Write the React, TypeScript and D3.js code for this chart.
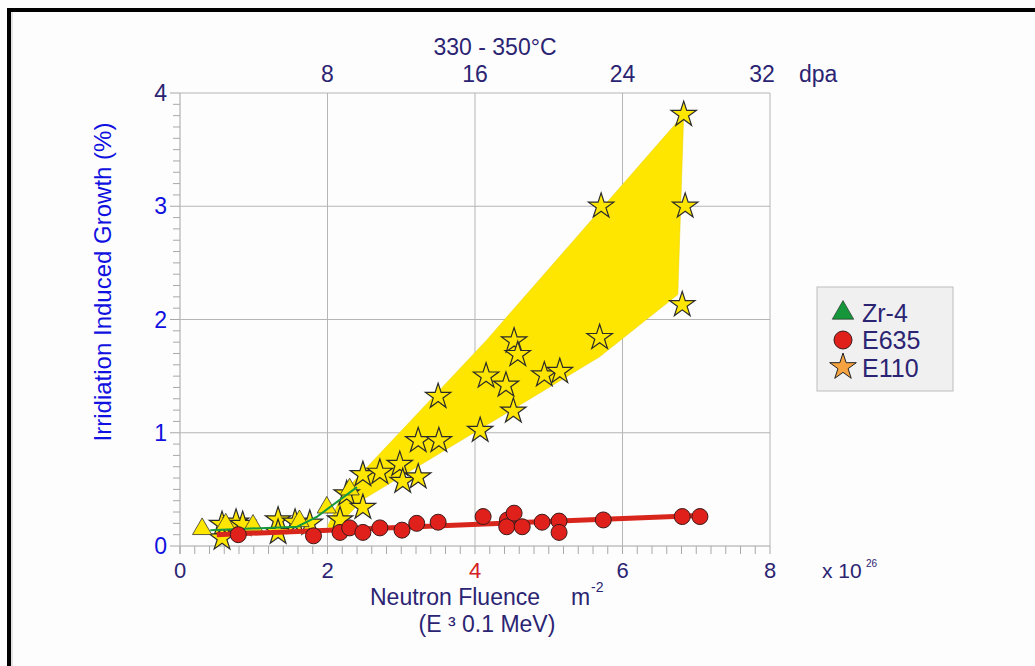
import React from "react";
import * as d3 from "d3";

const xTicks = [0, 2, 4, 6, 8];
const yTicks = [0, 1, 2, 3, 4];
const dpaTicks = [8, 16, 24, 32];

// E110 (stars): [fluence x1e26, growth %]
const e110X = [0.57, 0.57, 0.76, 0.85, 1.33, 1.33, 1.56, 1.76, 2.17, 2.26, 2.48, 2.48, 2.71, 2.98, 3.02, 3.23, 3.23, 3.51, 3.50, 4.07, 4.15, 4.42, 4.52, 4.53, 4.58, 4.94, 5.15, 5.69, 5.71, 6.81, 6.83, 6.85];
const e110Y = [0.19, 0.07, 0.21, 0.19, 0.23, 0.12, 0.21, 0.20, 0.23, 0.46, 0.63, 0.34, 0.65, 0.72, 0.57, 0.61, 0.93, 0.93, 1.32, 1.02, 1.50, 1.42, 1.19, 1.81, 1.69, 1.51, 1.54, 1.84, 3.00, 2.13, 3.81, 3.00];

// E635 (circles)
const e635X = [0.79, 1.81, 2.17, 2.30, 2.48, 2.71, 3.01, 3.21, 3.50, 4.11, 4.44, 4.43, 4.53, 4.64, 4.91, 5.14, 5.14, 5.74, 6.81, 7.05];
const e635Y = [0.10, 0.09, 0.12, 0.16, 0.12, 0.16, 0.14, 0.20, 0.21, 0.26, 0.23, 0.17, 0.29, 0.17, 0.21, 0.22, 0.12, 0.23, 0.26, 0.26];

// Zr-4 (triangles)
const zrX = [0.30, 0.62, 0.99, 1.62, 1.99, 2.30];
const zrY = [0.15, 0.19, 0.18, 0.22, 0.34, 0.50];

// trend lines
const zrLineX = [0.41, 1.59, 1.86, 2.40];
const zrLineY = [0.14, 0.17, 0.26, 0.52];
const e635LineX = [0.5, 7.05];
const e635LineY = [0.10, 0.27];

// E110 scatter band outline
const bandX = [2.0, 2.21, 4.16, 6.83, 6.75, 5.69, 4.52, 2.48, 2.1];
const bandY = [0.17, 0.47, 1.82, 3.81, 2.22, 1.67, 1.21, 0.41, 0.15];

const navy = "#2b2472";
const blue = "#1010e0";

export default function App() {
  const x = d3.scaleLinear().domain([0, 8]).range([180, 770]);
  const y = d3.scaleLinear().domain([0, 4]).range([546, 93]);
  const xd = d3.scaleLinear().domain([0, 32]).range([180, 770]);

  const star = d3.symbol().type(d3.symbolStar).size(200)() as string;
  const tri = d3.symbol().type(d3.symbolTriangle).size(160)() as string;
  const starLeg = d3.symbol().type(d3.symbolStar).size(220)() as string;
  const triLeg = d3.symbol().type(d3.symbolTriangle).size(200)() as string;

  const line = d3.line<[number, number]>().x((d) => x(d[0])).y((d) => y(d[1]));
  const band = bandX.map((v, i) => [v, bandY[i]] as [number, number]);
  const zrLine = zrLineX.map((v, i) => [v, zrLineY[i]] as [number, number]);
  const redLine = e635LineX.map((v, i) => [v, e635LineY[i]] as [number, number]);

  const yMinor = d3.range(0, 40.5, 1).map((i) => i / 10);
  const xMinor = d3.range(0, 40.5, 1).map((i) => i / 5);

  const font = "Arial, Liberation Sans, sans-serif";

  return (
    <svg width={1035} height={666} style={{ position: "absolute", left: 0, top: 0, background: "#fdfdfd" }} fontFamily={font}>
      <rect x={0} y={0} width={1035} height={666} fill="#fdfdfd" />
      {/* frame */}
      <rect x={9} y={10} width={1040} height={680} fill="none" stroke="#000" strokeWidth={4} />
      <line x1={12} y1={12} x2={12} y2={666} stroke="#c8c8c8" strokeWidth={1} />

      {/* gridlines */}
      {yTicks.filter((t) => t > 0).map((t) => (
        <line key={"gy" + t} x1={x(0)} x2={x(8)} y1={y(t)} y2={y(t)} stroke="#b5b5b5" strokeWidth={1} />
      ))}
      {xTicks.filter((t) => t > 0).map((t) => (
        <line key={"gx" + t} x1={x(t)} x2={x(t)} y1={y(0)} y2={y(4)} stroke="#b5b5b5" strokeWidth={1} />
      ))}

      {/* axes */}
      <line x1={x(0)} x2={x(0)} y1={y(4)} y2={y(0) + 8} stroke="#c0c0c0" strokeWidth={1.5} />
      <line x1={x(0)} x2={x(8)} y1={y(0)} y2={y(0)} stroke="#c0c0c0" strokeWidth={1.5} />
      {yMinor.map((t) => (
        <line key={"ym" + t} x1={x(0) - (Number.isInteger(t) ? 10 : 7)} x2={x(0)} y1={y(t)} y2={y(t)} stroke="#a8a8a8" strokeWidth={1} />
      ))}
      {xMinor.map((t) => (
        <line key={"xm" + t} x1={x(t)} x2={x(t)} y1={y(0)} y2={y(0) + 8} stroke="#a8a8a8" strokeWidth={1} />
      ))}

      {/* band */}
      <path d={line(band) + "Z"} fill="#ffe600" stroke="#e8d000" strokeWidth={0.5} />

      {/* stars */}
      {e110X.map((v, i) => (
        <path key={"s" + i} d={star} transform={`translate(${x(v)},${y(e110Y[i])})`} fill="#ffe600" stroke="#2a2a2a" strokeWidth={1.2} />
      ))}
      {/* triangles */}
      {zrX.map((v, i) => (
        <path key={"t" + i} d={tri} transform={`translate(${x(v)},${y(zrY[i])})`} fill="#ffe600" stroke="#333" strokeWidth={0.8} />
      ))}
      <path d={line(zrLine) as string} fill="none" stroke="#179a3c" strokeWidth={2} />
      <path d={line(redLine) as string} fill="none" stroke="#d9261c" strokeWidth={5} />
      {/* circles */}
      {e635X.map((v, i) => (
        <circle key={"c" + i} cx={x(v)} cy={y(e635Y[i])} r={8} fill="#e0211b" stroke="#3a1a1a" strokeWidth={1} />
      ))}

      {/* y tick labels */}
      {yTicks.map((t) => (
        <text key={"yl" + t} x={x(0) - 13} y={y(t) + 8} textAnchor="end" fontSize={23} fill={t === 4 ? navy : blue}>{t}</text>
      ))}
      {/* x tick labels */}
      {xTicks.map((t) => (
        <text key={"xl" + t} x={x(t)} y={578} textAnchor="middle" fontSize={22} fill={t === 4 ? "#d42020" : navy}>{t}</text>
      ))}
      <text x={822} y={578} fontSize={21} fill={navy}>x 10</text>
      <text x={866} y={567} fontSize={10} fill={navy}>26</text>

      {/* top dpa labels */}
      {dpaTicks.map((t) => (
        <text key={"dl" + t} x={xd(t) - (t === 32 ? 8 : 0)} y={82} textAnchor="middle" fontSize={23} fill={navy}>{t}</text>
      ))}
      <text x={799} y={82} fontSize={23} fill={navy}>dpa</text>
      <text x={495} y={55} textAnchor="middle" fontSize={23} fill={navy}>330 - 350°C</text>

      {/* axis titles */}
      <text x={370} y={605} fontSize={23} fill={navy}>Neutron Fluence</text>
      <text x={571} y={605} fontSize={23} fill={navy}>m</text>
      <text x={591} y={592} fontSize={14} fill={navy}>-2</text>
      <text x={487} y={632} textAnchor="middle" fontSize={23} fill={navy}>(E ³ 0.1 MeV)</text>
      <text transform="translate(111,282) rotate(-90)" textAnchor="middle" fontSize={24} fill={blue}>Irridiation Induced Growth (%)</text>

      {/* legend */}
      <rect x={817} y={287} width={136} height={104} fill="#f0f0f0" stroke="#bdbdbd" strokeWidth={1} />
      <path d={triLeg} transform="translate(843,313)" fill="#15963a" stroke="#222" strokeWidth={0.6} />
      <text x={862} y={322} fontSize={25} fill={navy}>Zr-4</text>
      <circle cx={843} cy={340} r={9} fill="#e0211b" stroke="#3a1a1a" strokeWidth={1} />
      <text x={862} y={349} fontSize={25} fill={navy}>E635</text>
      <path d={starLeg} transform="translate(843,367)" fill="#f5a340" stroke="#222" strokeWidth={1} />
      <text x={862} y={377} fontSize={25} fill={navy}>E110</text>
    </svg>
  );
}
